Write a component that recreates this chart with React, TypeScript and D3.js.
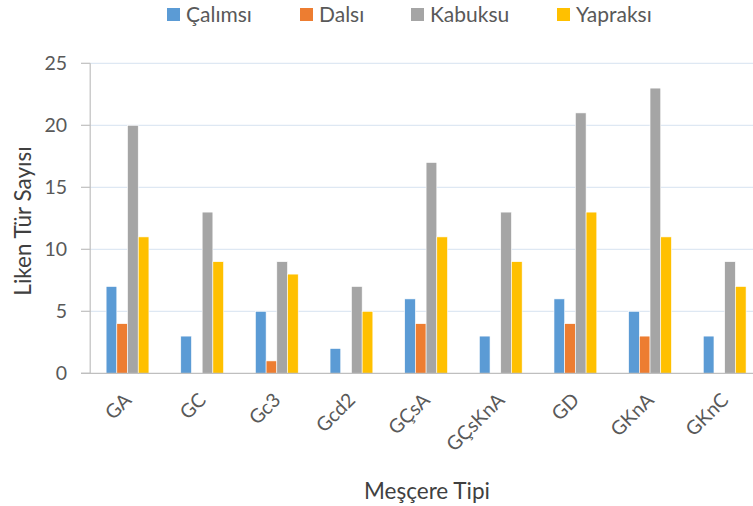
import React from "react";
import * as d3 from "d3";

const categories = ["GA", "GC", "Gc3", "Gcd2", "GÇsA", "GÇsKnA", "GD", "GKnA", "GKnC"];
const seriesNames = ["Çalımsı", "Dalsı", "Kabuksu", "Yapraksı"];
const seriesColors = ["#5B9BD5", "#ED7D31", "#A5A5A5", "#FFC000"];
const calimsi = [7, 3, 5, 2, 6, 3, 6, 5, 3];
const dalsi = [4, 0, 1, 0, 4, 0, 4, 3, 0];
const kabuksu = [20, 13, 9, 7, 17, 13, 21, 23, 9];
const yapraksi = [11, 9, 8, 5, 11, 9, 13, 11, 7];
const yTicks = [0, 5, 10, 15, 20, 25];
const seriesValues = [calimsi, dalsi, kabuksu, yapraksi];

const W = 753;
const H = 506;
const FONT = "Lato, 'Open Sans', sans-serif";

export default function App() {
  const left = 90.2;
  const right = 762;
  const top = 63.3;
  const bottom = 373.3;

  const x = d3.scaleBand<string>().domain(categories).range([left, right]).paddingInner(0).paddingOuter(0);
  const y = d3.scaleLinear().domain([0, 25]).range([bottom, top]);
  const barW = 10.7;
  const clusterW = barW * seriesNames.length;

  const legendItems = [
    { sx: 167, tx: 186 },
    { sx: 300, tx: 319 },
    { sx: 411, tx: 430 },
    { sx: 557, tx: 576 },
  ];

  return (
    <svg width={W} height={H} style={{ display: "block", position: "absolute", left: 0, top: 0 }} fontFamily={FONT}>
      <rect x={0} y={0} width={W} height={H} fill="#fff" />
      {/* gridlines */}
      {yTicks.filter((t) => t > 0).map((t) => (
        <line key={t} x1={left} x2={W} y1={y(t)} y2={y(t)} stroke="#DEE8F3" strokeWidth={1.3} />
      ))}
      {/* bars */}
      {seriesValues.map((vals, si) =>
        vals.map((v, ci) => {
          if (v === 0) return null;
          const cx = x(categories[ci])! + x.bandwidth() / 2;
          const bx = cx - clusterW / 2 + si * barW;
          return (
            <rect
              key={`${si}-${ci}`}
              x={bx}
              y={y(v)}
              width={barW}
              height={y(0) - y(v)}
              fill={seriesColors[si]}
              stroke="#fff"
              strokeWidth={0.6}
            />
          );
        })
      )}
      {/* axes */}
      <line x1={left} x2={left} y1={top} y2={bottom} stroke="#BFBFBF" strokeWidth={1.2} />
      <line x1={81} x2={W} y1={bottom} y2={bottom} stroke="#BFBFBF" strokeWidth={1.2} />
      {yTicks.map((t) => (
        <g key={t}>
          <line x1={81} x2={left} y1={y(t)} y2={y(t)} stroke="#BFBFBF" strokeWidth={1.2} />
          <text x={67} y={y(t)} dy="0.36em" textAnchor="end" fontSize={19.5} fill="#595959">
            {t}
          </text>
        </g>
      ))}
      {categories.map((c) => {
        const cx = x(c)! + x.bandwidth() / 2;
        return (
          <text
            key={c}
            transform={`translate(${cx + 5},${bottom + 28}) rotate(-45)`}
            textAnchor="end"
            fontSize={19.5}
            fill="#595959"
          >
            {c}
          </text>
        );
      })}
      {/* axis titles */}
      <text transform={`translate(31,221) rotate(-90)`} textAnchor="middle" fontSize={22.5} fill="#404040">
        Liken Tür Sayısı
      </text>
      <text x={427} y={499} textAnchor="middle" fontSize={22.5} fill="#404040">
        Meşçere Tipi
      </text>
      {/* legend */}
      {seriesNames.map((n, i) => (
        <g key={n}>
          <rect x={legendItems[i].sx} y={8} width={13} height={13} fill={seriesColors[i]} />
          <text x={legendItems[i].tx} y={21.5} fontSize={21} fill="#595959">
            {n}
          </text>
        </g>
      ))}
    </svg>
  );
}
